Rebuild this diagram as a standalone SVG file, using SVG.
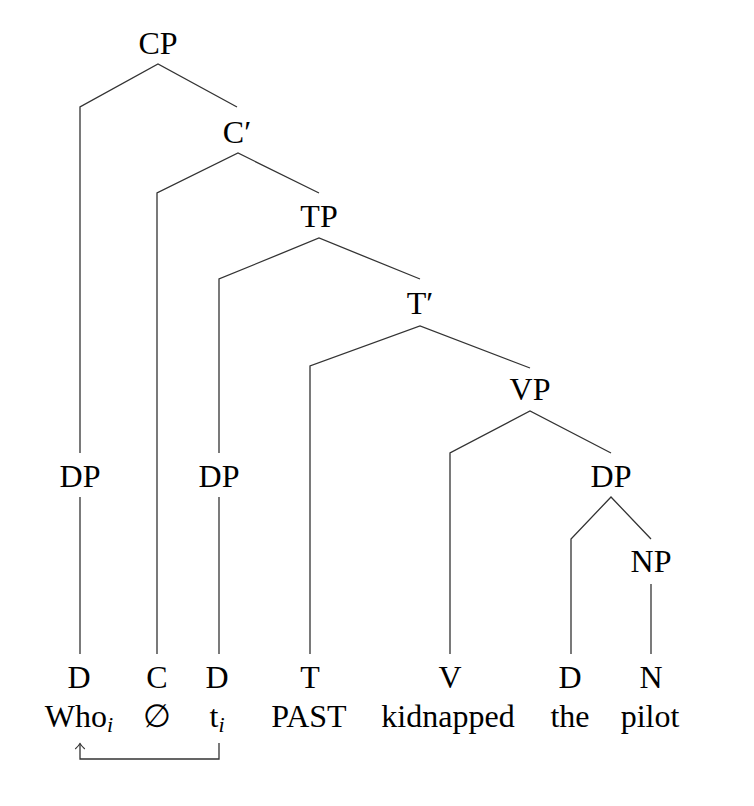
<svg xmlns="http://www.w3.org/2000/svg" width="754" height="806" viewBox="0 0 754 806">
  <style>
    .lbl { font-family: "Liberation Serif", "DejaVu Serif", serif; font-size: 32px; fill: #000; text-anchor: middle; }
    .sub { font-size: 22px; font-style: italic; }
    .edge { fill: none; stroke: #333; stroke-width: 1.3; stroke-linejoin: miter; }
  </style>
  <defs>
    <marker id="tip" viewBox="0 0 12 12" refX="10.5" refY="6" markerWidth="12" markerHeight="12" markerUnits="userSpaceOnUse" orient="auto">
      <path d="M5,1.2 Q8,4.5 10.5,6 Q8,7.5 5,10.8" fill="none" stroke="#333" stroke-width="1.1"/>
    </marker>
  </defs>
  <rect width="754" height="806" fill="#fff"/>
  <g id="connectors">
    <path class="edge" d="M80,453 V107 L158,64 L237,107"/>
    <path class="edge" d="M80,497 V654"/>
    <path class="edge" d="M157,654 V193 L238,153 L319,193"/>
    <path class="edge" d="M219,453 V279 L319,238 L420,279"/>
    <path class="edge" d="M219,497 V654"/>
    <path class="edge" d="M310,654 V366 L420,326 L530,368"/>
    <path class="edge" d="M450,654 V453 L530,411 L611,453"/>
    <path class="edge" d="M571,654 V539 L611,497 L651,539"/>
    <path class="edge" d="M651,584 V654"/>
    <path class="edge" d="M219,743 V759 H80 V743.5" marker-end="url(#tip)"/>
  </g>
  <g id="CP"><text class="lbl" x="158" y="54">CP</text></g>
  <g id="Cbar"><text class="lbl" x="237" y="143">C′</text></g>
  <g id="TP"><text class="lbl" x="319" y="227">TP</text></g>
  <g id="Tbar"><text class="lbl" x="420" y="314">T′</text></g>
  <g id="VP"><text class="lbl" x="530" y="400">VP</text></g>
  <g id="DP-obj"><text class="lbl" x="611" y="487">DP</text></g>
  <g id="NP"><text class="lbl" x="651" y="572">NP</text></g>
  <g id="DP-who"><text class="lbl" x="80" y="487">DP</text></g>
  <g id="DP-trace"><text class="lbl" x="219" y="487">DP</text></g>
  <g id="leaf-D-who">
    <text class="lbl" x="79" y="688">D</text>
    <text class="lbl" x="79" y="727">Who<tspan class="sub" dy="5">i</tspan></text>
  </g>
  <g id="leaf-C">
    <text class="lbl" x="157" y="688">C</text>
    <text class="lbl" x="157" y="727">∅</text>
  </g>
  <g id="leaf-D-trace">
    <text class="lbl" x="217" y="688">D</text>
    <text class="lbl" x="217" y="727">t<tspan class="sub" dy="5">i</tspan></text>
  </g>
  <g id="leaf-T">
    <text class="lbl" x="310" y="688">T</text>
    <text class="lbl" x="309" y="727">PAST</text>
  </g>
  <g id="leaf-V">
    <text class="lbl" x="450" y="688">V</text>
    <text class="lbl" x="448" y="727">kidnapped</text>
  </g>
  <g id="leaf-D-the">
    <text class="lbl" x="570" y="688">D</text>
    <text class="lbl" x="570" y="727">the</text>
  </g>
  <g id="leaf-N">
    <text class="lbl" x="651" y="688">N</text>
    <text class="lbl" x="650" y="727">pilot</text>
  </g>
</svg>
